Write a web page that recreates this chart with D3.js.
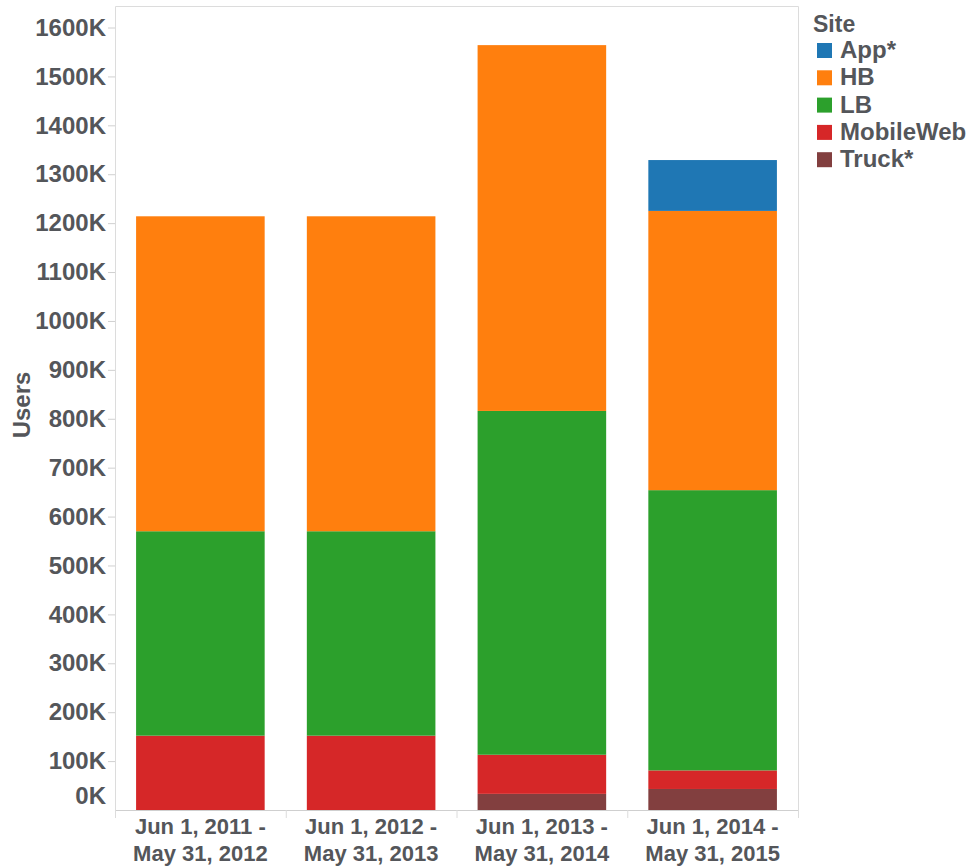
<html>
    <head>
        <meta charset='UTF-8'>
        <script src="https://d3js.org/d3.v7.min.js"></script>
        <style>
            body { margin: 0; background: white; }
            text { font-family: "Liberation Sans", Arial, sans-serif; font-weight: bold; fill: #54565a; }
            .paneBorder { stroke: #dcdcdc; stroke-width: 1px; fill: none; }
            .tick line { stroke: #d0d0d0; }
        </style>
    </head>
    <body>
        <svg id="chart" width="974" height="866"></svg>
        <script>
            // periods along the x axis (two lines each)
            const periods = ['2011', '2012', '2013', '2014'];
            const periodLine1 = ['Jun 1, 2011 -', 'Jun 1, 2012 -', 'Jun 1, 2013 -', 'Jun 1, 2014 -'];
            const periodLine2 = ['May 31, 2012', 'May 31, 2013', 'May 31, 2014', 'May 31, 2015'];

            // sites, legend order
            const sites = ['App*', 'HB', 'LB', 'MobileWeb', 'Truck*'];
            const siteColors = ['#1f77b4', '#ff7f0e', '#2ca02c', '#d62728', '#823f3f'];

            // users per site, one value per period
            const appUsers       = [0, 0, 0, 104000];
            const hbUsers        = [644000, 644000, 748000, 571000];
            const lbUsers        = [418000, 418000, 703000, 573000];
            const mobileWebUsers = [152000, 152000, 80000, 38000];
            const truckUsers     = [0, 0, 33000, 43000];

            const yTicks = d3.range(0, 1600001, 100000);

            // build rows for the stack
            const rows = periods.map((p, i) => ({
                period: p,
                'App*': appUsers[i],
                'HB': hbUsers[i],
                'LB': lbUsers[i],
                'MobileWeb': mobileWebUsers[i],
                'Truck*': truckUsers[i]
            }));
            // stacked from the bottom: Truck*, MobileWeb, LB, HB, App*
            const stackOrder = ['Truck*', 'MobileWeb', 'LB', 'HB', 'App*'];
            const series = d3.stack().keys(stackOrder)(rows);

            const svg = d3.select('#chart');
            const pane = { left: 115, right: 798, top: 6, bottom: 810 };

            const x = d3.scaleBand().domain(periods)
                        .range([pane.left, pane.right])
                        .paddingInner(0.247).paddingOuter(0.1235);
            const y = d3.scaleLinear().domain([0, 1644000]).range([pane.bottom, pane.top]);
            const color = d3.scaleOrdinal().domain(sites).range(siteColors);

            //pane border (left, top, right)
            svg.append('path').attr('class', 'paneBorder')
               .attr('d', `M${pane.left + 0.5},${pane.bottom}V${pane.top + 0.5}H${pane.right + 0.5}V${pane.bottom + 8}`);

            //stacked bars
            svg.append('g').selectAll('g').data(series)
               .join('g')
               .attr('fill', d => color(d.key))
               .selectAll('rect').data(d => d)
               .join('rect')
               .attr('x', d => x(d.data.period))
               .attr('width', x.bandwidth())
               .attr('y', d => y(d[1]))
               .attr('height', d => y(d[0]) - y(d[1]));

            //y axis
            const yAxis = svg.append('g')
                .attr('transform', `translate(${pane.left},0)`)
                .call(d3.axisLeft(y).tickValues(yTicks).tickSize(7).tickPadding(2)
                        .tickFormat(d => (d / 1000) + 'K'));
            yAxis.select('.domain').remove();
            yAxis.selectAll('text').style('font-size', '24px').attr('fill', null);
            // the 0K label sits just inside the pane, like the original
            yAxis.selectAll('.tick').filter(d => d === 0).select('text').attr('y', -14);
            yAxis.selectAll('.tick').filter(d => d === 0).select('line').remove();

            //x axis base line and column separators
            svg.append('line')
               .attr('x1', pane.left).attr('x2', pane.right)
               .attr('y1', pane.bottom + 0.5).attr('y2', pane.bottom + 0.5)
               .attr('stroke', '#cfcfcf');
            const gap = x.step() * x.paddingInner();
            const seps = periods.map(p => x(p) - gap / 2).concat([pane.right]);
            svg.append('g').selectAll('line').data(seps)
               .join('line')
               .attr('x1', d => d + 0.5).attr('x2', d => d + 0.5)
               .attr('y1', pane.bottom).attr('y2', pane.bottom + 8)
               .attr('stroke', '#dcdcdc');

            //x labels
            const xLabels = svg.append('g').selectAll('text').data(periods)
               .join('text')
               .attr('text-anchor', 'middle')
               .style('font-size', '22px');
            xLabels.append('tspan')
               .attr('x', d => x(d) + x.bandwidth() / 2).attr('y', 834)
               .text((d, i) => periodLine1[i]);
            xLabels.append('tspan')
               .attr('x', d => x(d) + x.bandwidth() / 2).attr('y', 861)
               .text((d, i) => periodLine2[i]);

            //y axis title
            svg.append('text')
               .attr('transform', 'translate(30,405) rotate(-90)')
               .attr('text-anchor', 'middle')
               .style('font-size', '24px')
               .text('Users');

            //legend
            const legend = svg.append('g').attr('transform', 'translate(813,0)');
            legend.append('text').attr('x', 0).attr('y', 32).style('font-size', '23px').text('Site');
            const items = legend.selectAll('g.item').data(sites)
               .join('g').attr('class', 'item')
               .attr('transform', (d, i) => `translate(0,${50 + i * 27.3})`);
            items.append('rect')
               .attr('x', 4).attr('y', -7).attr('width', 15).attr('height', 15)
               .attr('fill', d => color(d));
            items.append('text')
               .attr('x', 27).attr('y', 8)
               .style('font-size', '24px')
               .text(d => d);
        </script>
    </body>
</html>
